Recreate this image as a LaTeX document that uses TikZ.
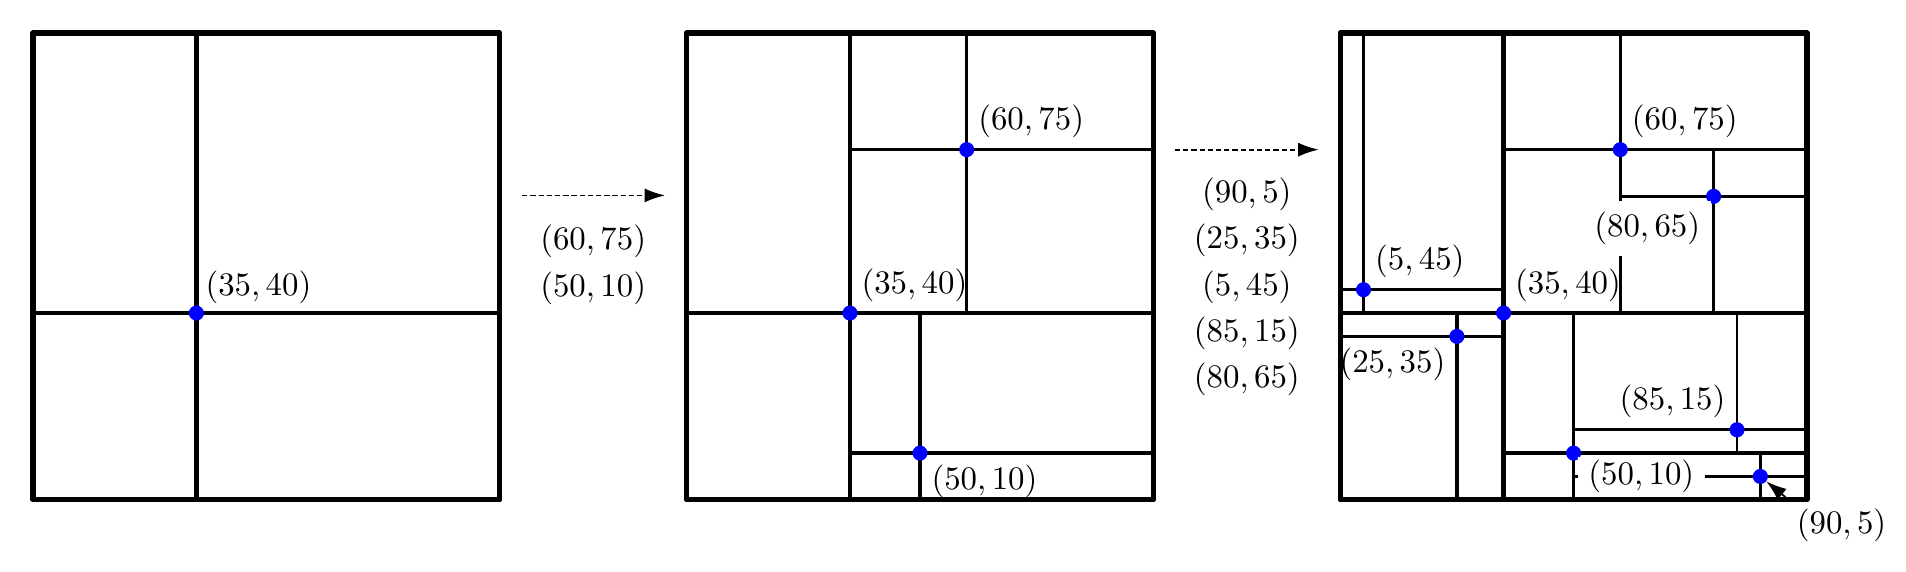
\documentclass[tikz,border=0pt]{standalone}
\usepackage{amsmath}
\usetikzlibrary{arrows.meta, positioning}

\begin{document}
\begin{tikzpicture}[% styles used in image code
         x = 0.05cm, y = 0.05cm,
         > = {Latex[length=2.2mm, width=1.5mm]},
frame/.style = {line width=1.6pt, line join=round},
 lvl1/.style = {line width=1.4pt},
 lvl2/.style = {line width=1.05pt},
 lvl3/.style = {line width=0.8pt},
  dot/.style = {circle, fill=blue, minimum size=4.6pt,
                inner sep=0pt, outer sep=0pt},
 flow/.style = {->, line width=0.55pt, dash pattern=on 1.6pt off 0.9pt},
cover/.style = {fill=white, inner ysep=1pt}
                    ]
	\useasboundingbox (-7.06,-15.42) rectangle (401.2,107.06);

	% first square: root only
	\begin{scope}
	\draw[lvl1] (35,0) -- (35,100) (0,40) -- (100,40);
	\draw[frame] (0,0) rectangle (100,100);
	\node[dot] (a3540) at (35,40) {};
	\node[above right, inner sep=2.6pt] (al3540) at (35,40) {$(35,40)$};
	\end{scope}

	% first step
	\coordinate (s1) at (104.8,65.2);
	\coordinate (e1) at (135.4,65.2);
	\draw[flow] (s1) -- (e1);
	\foreach \p [count=\i] in {{60,75},{50,10}}
		\node (t1\i) at (120,65.2-9.9*\i) {$(\p)$};

	% second square
	\begin{scope}[shift={(140,0)}]
	\draw[lvl1] (35,0) -- (35,100) (0,40) -- (100,40);
	\draw[lvl2] (60,40) -- (60,100) (35,75) -- (100,75);
	\draw[lvl2] (50,0) -- (50,40) (35,10) -- (100,10);
	\draw[frame] (0,0) rectangle (100,100);
	\node[dot] (b3540) at (35,40) {};
	\node[dot] (b6075) at (60,75) {};
	\node[dot] (b5010) at (50,10) {};
	\node[above right] (bl3540) at (35,40) {$(35,40)$};
	\node[above right] (bl6075) at (60,75) {$(60,75)$};
	\node[below right] (bl5010) at (50,10) {$(50,10)$};
	\end{scope}

	% second step
	\coordinate (s2) at (244.6,75);
	\coordinate (e2) at (275.4,75);
	\draw[flow] (s2) -- (e2);
	\foreach \p [count=\i] in {{90,5},{25,35},{5,45},{85,15},{80,65}}
		\node (t2\i) at (260,75.3-9.9*\i) {$(\p)$};

	% third square
	\begin{scope}[shift={(280,0)}]
	\draw[lvl1] (35,0) -- (35,100) (0,40) -- (100,40);
	\draw[lvl2] (60,40) -- (60,100) (35,75) -- (100,75);
	\draw[lvl2] (50,0) -- (50,40) (35,10) -- (100,10);
	\draw[lvl2] (25,0) -- (25,40) (0,35) -- (35,35);
	\draw[lvl2] (5,40) -- (5,100) (0,45) -- (35,45);
	\draw[lvl3] (90,0) -- (90,10) (50,5) -- (100,5);
	\draw[lvl3] (85,10) -- (85,40) (50,15) -- (100,15);
	\draw[lvl3] (80,40) -- (80,75) (60,65) -- (100,65);
	\node[dot] (c905) at (90,5) {};
	\node (cl905) at (107.4,-5.4) {$(90,5)$};
	\draw[flow] (cl905.north west) -- (c905);
	\draw[frame] (0,0) rectangle (100,100);
	\node[dot] (c3540) at (35,40) {};
	\node[dot] (c6075) at (60,75) {};
	\node[dot] (c5010) at (50,10) {};
	\node[dot] (c2535) at (25,35) {};
	\node[dot] (c545)  at (5,45) {};
	\node[dot] (c8515) at (85,15) {};
	\node[dot] (c8065) at (80,65) {};
	\node[above right] (cl3540) at (35,40) {$(35,40)$};
	\node[above right] (cl6075) at (60,75) {$(60,75)$};
	\node[cover, right, xshift=1pt] (cl5010) at (50,5) {$(50,10)$};
	\node[below left] (cl2535) at (25,35) {$(25,35)$};
	\node[above right] (cl545) at (5,45) {$(5,45)$};
	\node[above left] (cl8515) at (85,15) {$(85,15)$};
	\node[fill=white, below left, xshift=-0.6pt, yshift=-1.3pt] (cl8065) at (80,65) {$(80,65)$};
	\end{scope}
\end{tikzpicture}
\end{document}
